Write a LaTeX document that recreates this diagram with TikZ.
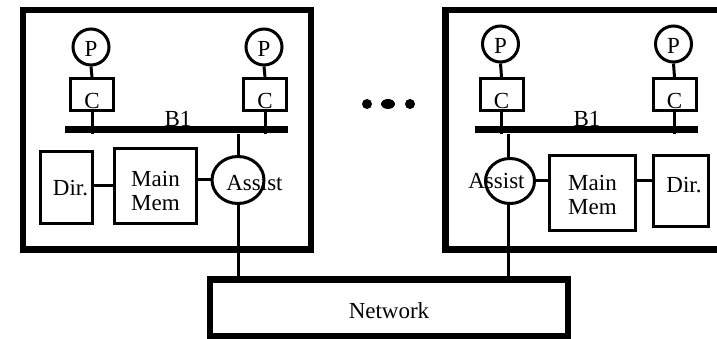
\documentclass[tikz,border=0pt]{standalone}
\usepackage{fontspec}
\setmainfont{Liberation Serif}
\usetikzlibrary{shapes.geometric}
\begin{document}
\begin{tikzpicture}[x=1pt,y=-1pt,
  thin line/.style={line width=3pt},
  outerbox/.style={draw,line width=6.5pt,rectangle,inner sep=0pt,miter limit=10},
  proc/.style={draw,thin line,circle,minimum size=36pt,inner sep=0pt},
  cachebox/.style={draw,thin line,rectangle,minimum width=43pt,minimum height=32pt,inner sep=0pt},
  membox/.style={draw,thin line,rectangle,inner sep=0pt,align=center},
  assistshape/.style={draw,thin line,ellipse,inner sep=0pt},
  bus/.style={line width=7pt},
  lbl/.style={font=\fontsize{23}{23.5}\selectfont,inner sep=0pt}
]
\clip (0,0) rectangle (717,339);
\useasboundingbox (0,0) rectangle (717,339);

% outer boxes
\node[outerbox,minimum width=288pt,minimum height=239.5pt] (boxL) at (167,129.75) {};
\node[outerbox,minimum width=282pt,minimum height=239.5pt] (boxR) at (586.5,129.75) {};
\node[outerbox,minimum width=358pt,minimum height=56.5pt] (net) at (389,307.75) {};
\node[lbl] (nettext) at (389,311) {Network};

% ---------- left node ----------
\node[proc] (pL1) at (91,47) {};
\node[lbl] at (91,48.5) {P};
\node[proc] (pL2) at (264,47) {};
\node[lbl] at (264,48.5) {P};
\node[cachebox] (cL1) at (92,94.5) {};
\node[lbl] at (92,101) {C};
\node[cachebox] (cL2) at (265,94.5) {};
\node[lbl] at (265,101) {C};
\node[lbl,anchor=base] (bL) at (178,127) {B1};
\coordinate (busL1) at (65,129.5);
\coordinate (busL2) at (288,129.5);
\coordinate (busLb) at (0,134);
\draw[bus] (busL1) -- (busL2);
\draw[thin line] (pL1.south) -- (cL1.north);
\draw[thin line] (pL2.south) -- (cL2.north);
\draw[thin line] (cL1.south) -- (cL1.south |- busLb);
\draw[thin line] (cL2.south) -- (cL2.south |- busLb);

\node[membox,minimum width=52pt,minimum height=72pt] (dL) at (66.5,187.5) {};
\node[lbl] at (70.5,188) {Dir.};
\node[membox,minimum width=82pt,minimum height=75pt] (mL) at (155.5,186) {};
\node[lbl,align=center] at (155.5,191) {Main\\Mem};
\node[assistshape,minimum width=52pt,minimum height=47pt] (aL) at (238,180) {};
\node[lbl] (aLt) at (254.5,183) {Assist};
\draw[thin line] (aL.north |- busLb) -- (aL.north);
\draw[thin line] (aL.south) -- (aL.south |- net.north);
\draw[thin line] (dL.east |- mL.west) -- (mL.west);
\draw[thin line] (mL.east |- aL.west) -- (aL.west);

% ---------- dots ----------
\fill (367,104) circle [radius=5];
\fill (388,104) ellipse [x radius=7, y radius=5];
\fill (410,104) circle [radius=5];

% ---------- right node ----------
\node[proc] (pR1) at (500.5,44) {};
\node[lbl] at (500.5,45.5) {P};
\node[proc] (pR2) at (673.5,44) {};
\node[lbl] at (673.5,45.5) {P};
\node[cachebox] (cR1) at (501.5,94.5) {};
\node[lbl] at (501.5,101) {C};
\node[cachebox] (cR2) at (674.5,94.5) {};
\node[lbl] at (674.5,101) {C};
\node[lbl,anchor=base] (bR) at (587,127) {B1};
\coordinate (busR1) at (475,129.5);
\coordinate (busR2) at (698,129.5);
\draw[bus] (busR1) -- (busR2);
\draw[thin line] (pR1.south) -- (cR1.north);
\draw[thin line] (pR2.south) -- (cR2.north);
\draw[thin line] (cR1.south) -- (cR1.south |- busLb);
\draw[thin line] (cR2.south) -- (cR2.south |- busLb);

\node[assistshape,minimum width=49pt,minimum height=45pt] (aR) at (510,181) {};
\node[lbl] (aRt) at (496.5,181) {Assist};
\node[membox,minimum width=86pt,minimum height=75pt] (mR) at (592.5,193) {};
\node[lbl,align=center] at (592.5,195) {Main\\Mem};
\node[membox,minimum width=55pt,minimum height=71pt] (dR) at (681,191) {};
\node[lbl] at (684,185) {Dir.};
\draw[thin line] (508,134) -- (508,158.5);
\draw[thin line] (508,203.5) -- (508,279.5);
\draw[thin line] (aR.east) -- (mR.west |- aR.east);
\draw[thin line] (mR.east |- aR.east) -- (dR.west |- aR.east);
\end{tikzpicture}
\end{document}
